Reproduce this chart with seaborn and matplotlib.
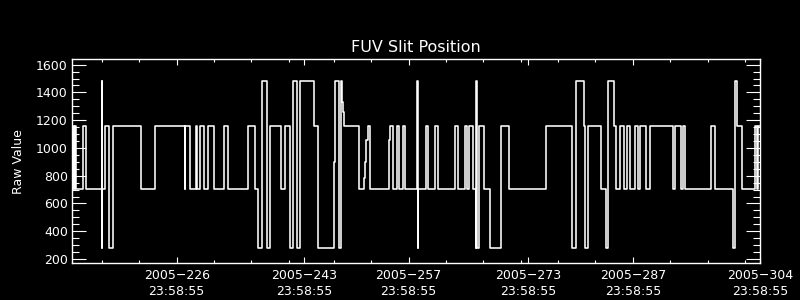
import matplotlib
matplotlib.use("Agg")
import matplotlib.pyplot as plt
import seaborn as sns
import pandas as pd
from matplotlib.ticker import FixedLocator, MultipleLocator

# Time (day of year 2005, fractional) and raw slit position values (steps-post)
times = [
    213.00, 213.11, 213.24, 213.37, 213.53, 214.51, 214.91,
    216.96, 216.97, 216.98, 217.45, 217.99, 218.43, 222.22, 224.10,
    228.11, 228.13, 228.72, 229.58, 229.71, 230.15, 230.59, 231.13, 231.93,
    233.36, 233.80, 236.48, 237.47, 237.91, 238.35, 239.07, 239.42,
    240.94, 241.48, 242.09, 242.49, 243.08, 243.43, 245.39, 245.83,
    248.07, 248.20, 248.64, 248.96, 249.04, 249.14, 249.23, 249.31, 249.40,
    251.41, 252.08, 252.21, 252.31, 252.52, 252.88, 255.33, 255.51,
    255.86, 256.40, 256.76, 257.20, 257.56, 259.20, 259.21, 259.22,
    260.33, 260.67, 261.53, 261.88, 264.20, 264.55, 265.54, 265.81,
    266.07, 266.61, 267.01, 267.08, 267.10, 267.36, 268.12, 268.88,
    270.35, 271.42, 276.45, 279.84, 280.38, 281.53, 281.66, 281.98,
    283.80, 284.47, 284.74, 285.41, 285.81, 286.34, 286.88, 287.28,
    287.68, 288.35, 288.75, 289.02, 289.74, 290.31, 293.35, 293.70,
    294.42, 294.69, 295.03, 298.43, 299.04, 301.45, 301.61, 301.98,
    302.55, 304.35, 304.62, 304.75, 304.99,
]
raw_values = [
    705, 1160, 705, 1160, 705, 1160, 705,
    1485, 280, 705, 1160, 280, 1160, 705, 1160,
    705, 1160, 705, 1160, 705, 1160, 705, 1160, 705,
    1160, 705, 1160, 705, 280, 1485, 280, 1160,
    705, 1160, 280, 1485, 280, 1485, 1160, 280,
    900, 1485, 280, 1485, 1420, 1330, 1260, 1200, 1160,
    705, 780, 900, 1060, 1160, 705, 1060, 1160,
    705, 1160, 705, 1160, 705, 1485, 280, 705,
    1160, 705, 1160, 705, 1160, 705, 1160, 705,
    1160, 705, 280, 1485, 280, 1160, 705, 280,
    1160, 705, 1160, 280, 1480, 1160, 280, 1160,
    705, 280, 1480, 1160, 705, 1160, 705, 1160,
    705, 1160, 705, 1160, 705, 1160, 705, 1160,
    705, 1160, 705, 1160, 705, 280, 1485, 1160,
    705, 1160, 705, 1160, 1160,
]

# Axis labelling
major_days = [226, 243, 257, 273, 287, 304]
major_time = "23:58:55"
minor_days = [217, 222, 232, 237, 242, 248, 253, 263, 268, 273, 278, 283, 293, 298, 303]
title = "FUV Slit Position"
ylabel = "Raw Value"

df = pd.DataFrame({"t": times, "v": raw_values})

sns.set_style("white")
plt.rcParams.update({
    "figure.facecolor": "black",
    "axes.facecolor": "black",
    "axes.edgecolor": "white",
    "text.color": "white",
    "xtick.color": "white",
    "ytick.color": "white",
    "axes.labelcolor": "white",
    "font.family": ["DejaVu Sans"],
})

fig = plt.figure(figsize=(8, 3), dpi=100)
ax = fig.add_axes([0.09, 0.1222, 0.86, 0.6800])

sns.lineplot(data=df, x="t", y="v", ax=ax, color="white", linewidth=1.15,
             drawstyle="steps-post", estimator=None, sort=False)

ax.set_xlim(213.0, 305.0)
ax.set_ylim(169, 1638)

hms = [int(s) for s in major_time.split(":")]
frac = (hms[0] * 3600 + hms[1] * 60 + hms[2]) / 86400.0
ax.xaxis.set_major_locator(FixedLocator([d + frac for d in major_days]))
ax.set_xticklabels([f"2005\u2212{d}\n{major_time}" for d in major_days])
ax.xaxis.set_minor_locator(FixedLocator(minor_days))
ax.yaxis.set_major_locator(MultipleLocator(200))
ax.yaxis.set_minor_locator(MultipleLocator(50))

ax.tick_params(axis="x", which="major", direction="in", length=4.3, width=0.8,
               top=True, bottom=True, labelsize=9, pad=4)
ax.tick_params(axis="x", which="minor", direction="in", length=2.2, width=0.8,
               top=True, bottom=True)
ax.tick_params(axis="y", which="major", direction="in", length=10, width=0.8,
               left=True, right=True, labelsize=9, pad=3)
ax.tick_params(axis="y", which="minor", direction="in", length=5, width=0.8,
               left=True, right=True)
for lab in ax.get_xticklabels():
    lab.set_linespacing(1.3)

for s in ax.spines.values():
    s.set_color("white")
    s.set_linewidth(1.0)

ax.set_xlabel("")
ax.set_ylabel(ylabel, fontsize=9, labelpad=8)
ax.set_title(title, fontsize=11.5, color="white", pad=5)
ax.grid(False)

fig.savefig("out.png", dpi=100, facecolor="black")
